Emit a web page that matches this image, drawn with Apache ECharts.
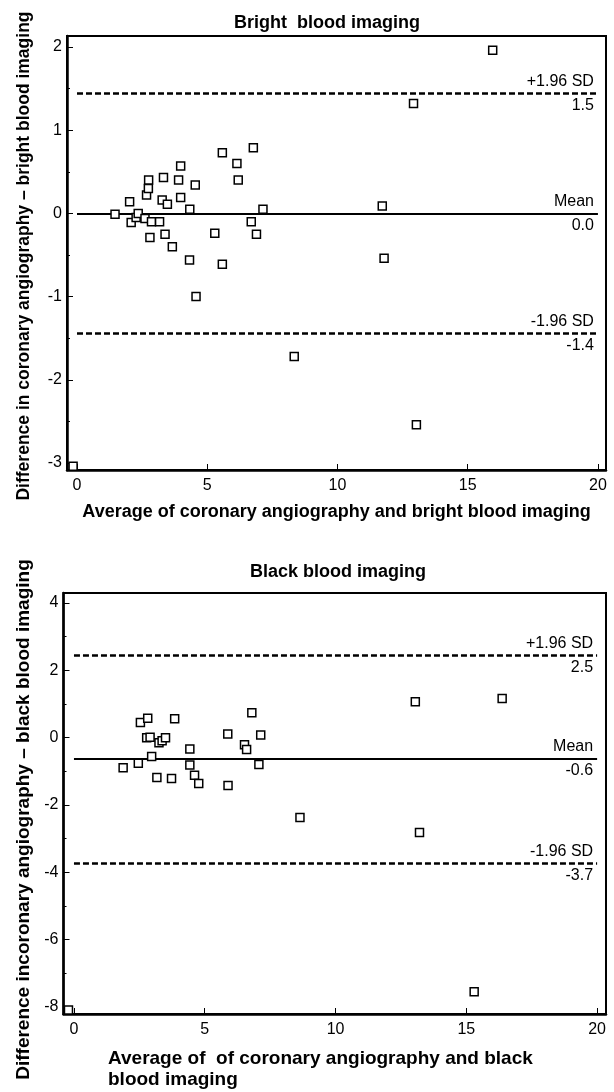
<!DOCTYPE html>
<html>
<head>
<meta charset="utf-8">
<script src="https://cdn.jsdelivr.net/npm/echarts@6/dist/echarts.min.js"></script>
<style>
html,body{margin:0;padding:0;background:#fff;}
#chart{width:614px;height:1092px;}
</style>
</head>
<body>
<div id="chart"></div>
<script>
// ---------- data ----------
const topTitle = 'Bright  blood imaging';
const botTitle = 'Black blood imaging';
const topXName = 'Average of coronary angiography and bright blood imaging';
const topYName = 'Difference in coronary angiography \u2013 bright blood imaging';
const botXName = 'Average of  of coronary angiography and black\nblood imaging';
const botYName = 'Difference incoronary angiography \u2013 black blood imaging';

const topX = [1.46, 2.02, 2.08, 2.27, 2.35, 2.61, 2.67, 2.74, 2.75, 2.86, 2.80, 3.17, 3.32, 3.27, 3.38, 3.47, 3.66, 3.90, 3.98, 3.98, 4.33, 4.32, 4.54, 4.57, 5.29, 5.58, 5.58, 6.14, 6.19, 6.69, 6.77, 6.89, 7.14, 8.34, 11.72, 11.79, 12.92, 13.03, 15.96, -0.15];
const topY = [-0.01, 0.14, -0.11, -0.05, 0.00, -0.06, 0.22, 0.30, 0.40, -0.10, -0.29, -0.10, 0.43, 0.16, -0.25, 0.11, -0.40, 0.40, 0.57, 0.19, 0.05, -0.56, 0.34, -1.00, -0.24, 0.73, -0.61, 0.60, 0.40, -0.10, 0.79, -0.25, 0.05, -1.72, 0.09, -0.54, 1.32, -2.54, 1.96, -3.04];

const botX = [1.88, 2.46, 2.54, 2.82, 2.78, 2.91, 2.97, 3.17, 3.25, 3.37, 3.50, 3.73, 3.85, 4.43, 4.43, 4.61, 4.77, 5.88, 5.89, 6.52, 6.60, 6.80, 7.14, 7.07, 8.64, 13.05, 13.21, 15.30, 16.37, -0.21];
const botY = [-0.89, -0.76, 0.45, 0.58, 0.00, 0.01, -0.56, -1.18, -0.15, -0.09, 0.00, -1.21, 0.56, -0.34, -0.81, -1.12, -1.36, 0.11, -1.42, -0.21, -0.35, 0.74, 0.08, -0.80, -2.37, 1.07, -2.82, -7.55, 1.16, -8.09];

// limits of agreement: [+1.96 SD, Mean, -1.96 SD]
const lineNames = ['+1.96 SD', 'Mean', '-1.96 SD'];
const lineTypes = ['dashed', 'solid', 'dashed'];
const topLines = [1.44, 0.0, -1.44];
const topLineLabels = ['1.5', '0.0', '-1.4'];
const botLines = [2.45, -0.63, -3.74];
const botLineLabels = ['2.5', '-0.6', '-3.7'];
const lineSpan = [0, 20];

// ---------- chart ----------
const FONT = '"Liberation Sans", Arial, Helvetica, sans-serif';
const chart = echarts.init(document.getElementById('chart'), null, {renderer: 'canvas'});

function pairs(xs, ys) { return xs.map((x, i) => [x, ys[i]]); }

function markLines(vals, labels) {
  const out = [];
  vals.forEach((v, i) => {
    const ls = lineTypes[i] === 'dashed'
      ? {color: '#000', width: 2.5, type: [6, 3]}
      : {color: '#000', width: 2, type: 'solid'};
    out.push([
      {coord: [lineSpan[0], v], lineStyle: ls,
       label: {show: true, position: 'insideEndTop', distance: 4, formatter: lineNames[i],
               color: '#000', fontFamily: FONT, fontSize: 16}},
      {coord: [lineSpan[1], v]}
    ]);
    out.push([
      {coord: [lineSpan[0], v], lineStyle: {color: 'rgba(0,0,0,0)', width: 1, type: 'solid'},
       label: {show: true, position: 'insideEndBottom', distance: 4, formatter: labels[i],
               color: '#000', fontFamily: FONT, fontSize: 16}},
      {coord: [lineSpan[1], v]}
    ]);
  });
  return out;
}

function xAxisCfg(gi, min, max, name, gap) {
  return {
    type: 'value', gridIndex: gi, min: min, max: max, splitNumber: 4,
    name: name, nameLocation: 'middle', nameGap: gap,
    nameTextStyle: {color: '#000', fontFamily: FONT, fontSize: 18, fontWeight: 'bold'},
    axisLine: {onZero: false, lineStyle: {color: '#000', width: 2.5}},
    axisTick: {inside: true, length: 6, lineStyle: {color: '#000', width: 1}},
    axisLabel: {color: '#000', fontFamily: FONT, fontSize: 16, margin: 8,
                showMinLabel: false, showMaxLabel: false},
    splitLine: {show: false}
  };
}
function yAxisCfg(gi, min, max, split, name, gap, fs, pad) {
  return {
    type: 'value', gridIndex: gi, min: min, max: max, splitNumber: split,
    name: name, nameLocation: 'middle', nameGap: gap,
    nameTextStyle: {color: '#000', fontFamily: FONT, fontSize: fs, fontWeight: 'bold', padding: pad},
    axisLine: {onZero: false, lineStyle: {color: '#000', width: 2.5}},
    axisTick: {inside: true, length: 6, lineStyle: {color: '#000', width: 1}},
    minorTick: {show: true, splitNumber: 2, length: 3, lineStyle: {color: '#000', width: 1}},
    axisLabel: {color: '#000', fontFamily: FONT, fontSize: 16, margin: 5,
                showMinLabel: false, showMaxLabel: false},
    splitLine: {show: false}, minorSplitLine: {show: false}
  };
}

function scatter(gi, xs, ys, vals, labels) {
  return {
    type: 'scatter', xAxisIndex: gi, yAxisIndex: gi,
    data: pairs(xs, ys),
    symbol: 'rect', symbolSize: 8,
    itemStyle: {color: '#fff', borderColor: '#000', borderWidth: 1.5, opacity: 1},
    z: 5,
    markLine: {silent: true, symbol: ['none', 'none'], animation: false, z: 3,
               data: markLines(vals, labels)}
  };
}

const option = {
  animation: false,
  backgroundColor: '#fff',
  title: [
    {text: topTitle, left: 327, top: 14, textAlign: 'center', padding: 0,
     textStyle: {color: '#000', fontFamily: FONT, fontSize: 18, fontWeight: 'bold'}},
    {text: botTitle, left: 338, top: 563, textAlign: 'center', padding: 0,
     textStyle: {color: '#000', fontFamily: FONT, fontSize: 18, fontWeight: 'bold'}},
    {text: botXName, left: 108, top: 1048, padding: 0,
     textStyle: {color: '#000', fontFamily: FONT, fontSize: 19, fontWeight: 'bold', lineHeight: 21}}
  ],
  grid: [
    {left: 67, top: 36, width: 539, height: 434, show: true, borderColor: '#000', borderWidth: 2, backgroundColor: 'transparent'},
    {left: 63.5, top: 593, width: 542.5, height: 421, show: true, borderColor: '#000', borderWidth: 2, backgroundColor: 'transparent'}
  ],
  xAxis: [
    xAxisCfg(0, -0.384, 20.31, topXName, 33),
    xAxisCfg(1, -0.40, 20.34, '', 30)
  ],
  yAxis: [
    yAxisCfg(0, -3.084, 2.132, 5, topYName, 34, 17.5, [0, 6, 0, 0]),
    yAxisCfg(1, -8.208, 4.297, 6, botYName, 30, 19, [0, 32, 0, 0])
  ],
  series: [
    scatter(0, topX, topY, topLines, topLineLabels),
    scatter(1, botX, botY, botLines, botLineLabels)
  ]
};
chart.setOption(option);
</script>
</body>
</html>
